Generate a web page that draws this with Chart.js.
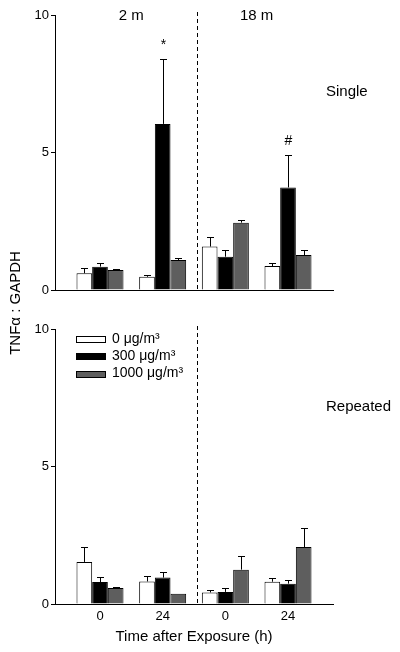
<!DOCTYPE html>
<html>
<head>
<meta charset="utf-8">
<title>TNFα : GAPDH</title>
<script src="https://cdn.jsdelivr.net/npm/chart.js@4.4.1/dist/chart.umd.min.js"></script>
<style>
  body { margin: 0; background: #fff; }
  #wrap { position: relative; width: 400px; height: 652px; font-family: "Liberation Sans", Arial, sans-serif; }
  canvas { position: absolute; left: 0; }
  #top { top: 0; }
  #bottom { top: 310px; }
  #ylabel {
    position: absolute; left: -85px; top: 293px; width: 200px; height: 20px;
    line-height: 20px; text-align: center; font-size: 15px; color: #000;
    transform: rotate(-90deg);
  }
</style>
</head>
<body>
<div id="wrap">
  <canvas id="top" width="400" height="310"></canvas>
  <canvas id="bottom" width="400" height="342"></canvas>
  <div id="ylabel">TNFα : GAPDH</div>
</div>
<script>
const timeLabels = ["0", "24", "0", "24"];
const ageLabels = ["2 m", "18 m"];
const doseLabels = ["0 μg/m³", "300 μg/m³", "1000 μg/m³"];
const doseColors = ["#ffffff", "#000000", "#5e5e5e"];
const groupPos = [1, 2, 3, 4];
const agePos = [1.5, 3.5];
const dividerPos = 2.54;
const yTicks = [0, 5, 10];

// single exposure
const single0 = [0.61, 0.48, 1.58, 0.87];
const single0Err = [0.20, 0.05, 0.36, 0.12];
const single300 = [0.85, 6.04, 1.21, 3.73];
const single300Err = [0.14, 2.35, 0.23, 1.18];
const single1000 = [0.73, 1.09, 2.45, 1.27];
const single1000Err = [0.04, 0.08, 0.10, 0.17];
const single300Marks = ["", "*", "", "#"];

// repeated exposure
const repeated0 = [1.53, 0.82, 0.42, 0.81];
const repeated0Err = [0.54, 0.21, 0.10, 0.14];
const repeated300 = [0.80, 0.96, 0.44, 0.74];
const repeated300Err = [0.18, 0.19, 0.13, 0.15];
const repeated1000 = [0.58, 0.37, 1.25, 2.07];
const repeated1000Err = [0.05, 0.00, 0.48, 0.69];

const FONT = '"Liberation Sans", Arial, sans-serif';

function makeDataset(i, values, errs, marks) {
  return {
    label: doseLabels[i],
    data: values.map((v, j) => ({ x: groupPos[j], y: v })),
    err: errs,
    marks: marks || [],
    backgroundColor: doseColors[i],
    borderColor: "#000",
    borderWidth: 1,
    categoryPercentage: 0.75,
    barPercentage: 1.0
  };
}

const errorBars = {
  id: "errorBars",
  afterDatasetsDraw(chart) {
    const ctx = chart.ctx;
    const y = chart.scales.y;
    ctx.save();
    ctx.strokeStyle = "#000";
    ctx.lineWidth = 1;
    ctx.fillStyle = "#000";
    ctx.textAlign = "center";
    ctx.textBaseline = "alphabetic";
    chart.data.datasets.forEach((ds, i) => {
      chart.getDatasetMeta(i).data.forEach((bar, j) => {
        const e = ds.err[j];
        const top = Math.round(y.getPixelForValue(ds.data[j].y + e)) + 0.5;
        const x = Math.round(bar.x) + 0.5;
        if (e > 0) {
          ctx.beginPath();
          ctx.moveTo(x, bar.y);
          ctx.lineTo(x, top);
          ctx.moveTo(x - 3.5, top);
          ctx.lineTo(x + 3.5, top);
          ctx.stroke();
        }
        if (ds.marks[j]) {
          ctx.font = "14px " + FONT;
          ctx.fillText(ds.marks[j], x, top - 11);
        }
      });
    });
    ctx.restore();
  }
};

const panelDeco = {
  id: "panelDeco",
  afterDraw(chart, args, opts) {
    const ctx = chart.ctx;
    const area = chart.chartArea;
    const xs = chart.scales.x;
    ctx.save();
    // divider between ages
    const dx = Math.round(xs.getPixelForValue(dividerPos)) + 0.5;
    ctx.strokeStyle = "#000";
    ctx.lineWidth = 1;
    ctx.setLineDash([4, 3]);
    ctx.beginPath();
    ctx.moveTo(dx, area.top - 3);
    ctx.lineTo(dx, area.bottom);
    ctx.stroke();
    ctx.setLineDash([]);

    ctx.fillStyle = "#000";
    ctx.font = "15px " + FONT;
    ctx.textBaseline = "middle";
    if (opts.ages) {
      ctx.textAlign = "center";
      ageLabels.forEach((t, i) => ctx.fillText(t, xs.getPixelForValue(agePos[i]), area.top + 1));
    }
    ctx.textAlign = "left";
    ctx.fillText(opts.name, area.right - 7, area.top + opts.nameY);

    if (opts.legend) {
      ctx.font = "14px " + FONT;
      doseLabels.forEach((t, i) => {
        const cy = area.top + 10 + i * 17.3;
        ctx.fillStyle = doseColors[i];
        ctx.fillRect(area.left + 21.5, Math.round(cy - 3) + 0.5, 29, 6);
        ctx.strokeStyle = "#000";
        ctx.strokeRect(area.left + 21.5, Math.round(cy - 3) + 0.5, 29, 6);
        ctx.fillStyle = "#000";
        ctx.fillText(t, area.left + 57, cy);
      });
    }
    ctx.restore();
  }
};

function makePanel(id, datasets, deco, showX, topPad, xHeight) {
  return new Chart(document.getElementById(id), {
    type: "bar",
    data: { datasets: datasets },
    plugins: [errorBars, panelDeco],
    options: {
      responsive: false,
      animation: false,
      devicePixelRatio: 1,
      layout: { padding: { top: topPad, right: 67, bottom: 0, left: 0 } },
      plugins: {
        legend: { display: false },
        tooltip: { enabled: false },
        panelDeco: deco
      },
      scales: {
        x: {
          type: "linear",
          offset: false,
          min: 0.282,
          max: 4.718,
          afterBuildTicks: (s) => { s.ticks = groupPos.map((v) => ({ value: v })); },
          afterFit: (s) => { s.height = xHeight; s.paddingLeft = 0; s.paddingRight = 0; },
          ticks: {
            display: showX,
            autoSkip: false,
            maxRotation: 0,
            padding: 5,
            color: "#000",
            font: { family: FONT, size: 13 },
            callback: (v, i) => timeLabels[i]
          },
          grid: { display: false, drawTicks: false, offset: false },
          border: { display: true, color: "#000", width: 1 },
          title: {
            display: showX,
            text: "Time after Exposure (h)",
            color: "#000",
            font: { family: FONT, size: 15 },
            padding: { top: 0, bottom: 6 }
          }
        },
        y: {
          min: 0,
          max: 10,
          afterBuildTicks: (s) => { s.ticks = yTicks.map((v) => ({ value: v })); },
          afterFit: (s) => { s.width = 55; s.paddingTop = 0; s.paddingBottom = 0; },
          ticks: {
            color: "#000",
            padding: 2,
            font: { family: FONT, size: 13 }
          },
          grid: { drawOnChartArea: false, drawTicks: true, tickLength: 4, color: "#000" },
          border: { display: true, color: "#000", width: 1 }
        }
      }
    }
  });
}

makePanel("top", [
  makeDataset(0, single0, single0Err),
  makeDataset(1, single300, single300Err, single300Marks),
  makeDataset(2, single1000, single1000Err)
], { name: "Single", nameY: 77, ages: true, legend: false }, false, 15, 20);

makePanel("bottom", [
  makeDataset(0, repeated0, repeated0Err),
  makeDataset(1, repeated300, repeated300Err),
  makeDataset(2, repeated1000, repeated1000Err)
], { name: "Repeated", nameY: 78, ages: false, legend: true }, true, 19, 48);
</script>
</body>
</html>
